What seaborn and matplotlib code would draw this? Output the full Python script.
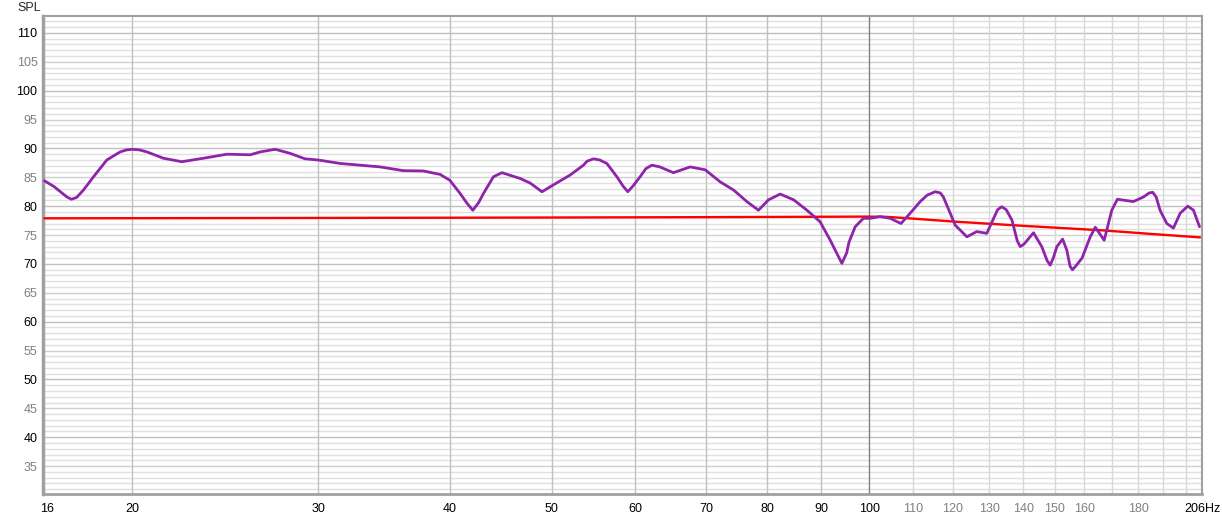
#Imports and config
import pandas as pd
import matplotlib
matplotlib.use("Agg")
import matplotlib.pyplot as plt
import seaborn as sns

#==========================================================================
#data (Hz, dB SPL)
#==========================================================================
freq_meas = [16.5, 16.85, 17.33, 17.5, 17.7, 17.97, 18.37, 18.91, 19.47, 19.75,
             20.0, 20.3, 20.64, 21.4, 22.28, 23.35, 24.58, 25.87, 26.44, 27.32,
             28.22, 29.16, 30.0, 31.48, 32.89, 34.36, 36.15, 37.76, 39.17, 40.0,
             40.92, 41.5, 42.07, 42.6, 43.06, 44.01, 44.83, 46.65, 47.69, 48.93,
             50.18, 52.04, 53.57, 54.0, 54.76, 55.5, 56.38, 57.63, 58.4, 59.02,
             59.7, 60.63, 61.4, 62.2, 63.3, 65.2, 67.63, 69.89, 72.24, 74.36,
             76.55, 78.52, 80.26, 82.34, 84.8, 87.29, 89.84, 91.85, 93.2, 94.21,
             95.2, 95.7, 97.0, 98.76, 100.2, 102.4, 104.7, 107.2, 109.4, 111.8,
             113.5, 115.5, 116.8, 117.6, 120.7, 123.8, 126.5, 129.3, 132.4, 133.6,
             134.9, 136.6, 138.2, 139.1, 140.2, 143.2, 145.8, 147.5, 148.5, 149.5,
             150.7, 152.6, 154.0, 155.1, 155.9, 157.0, 159.2, 162.1, 163.9, 167.1,
             169.9, 172.0, 178.1, 182.1, 184.4, 185.8, 187.2, 188.8, 191.6, 194.4,
             197.3, 200.6, 203.1, 205.8]
spl_meas = [84.4, 83.4, 81.6, 81.2, 81.5, 82.8, 85.1, 88.0, 89.4, 89.75,
            89.85, 89.75, 89.4, 88.3, 87.7, 88.3, 89.0, 88.9, 89.4, 89.85,
            89.15, 88.2, 88.0, 87.4, 87.1, 86.8, 86.15, 86.1, 85.5, 84.5,
            82.2, 80.6, 79.3, 80.6, 82.2, 85.1, 85.8, 84.8, 84.0, 82.5,
            83.7, 85.4, 87.1, 87.8, 88.2, 88.0, 87.4, 85.1, 83.5, 82.5,
            83.5, 85.1, 86.5, 87.1, 86.8, 85.8, 86.8, 86.3, 84.2, 82.8,
            80.8, 79.3, 81.1, 82.1, 81.1, 79.3, 77.3, 74.1, 71.8, 70.1,
            71.9, 73.8, 76.45, 77.9, 77.9, 78.2, 77.9, 77.0, 78.8, 80.8,
            81.9, 82.5, 82.3, 81.6, 76.7, 74.7, 75.6, 75.3, 79.4, 79.9,
            79.4, 77.6, 74.0, 73.0, 73.4, 75.4, 73.0, 70.6, 69.8, 71.0,
            73.0, 74.3, 72.4, 69.6, 69.0, 69.6, 71.0, 74.7, 76.35, 74.1,
            79.3, 81.2, 80.8, 81.6, 82.3, 82.4, 81.6, 79.3, 77.0, 76.2,
            78.8, 80.0, 79.3, 76.45]

freq_target = [16.5, 40, 70, 100, 104, 110, 120, 140, 167, 185, 206]
spl_target = [77.9, 78.0, 78.1, 78.2, 78.15, 77.85, 77.35, 76.6, 75.8, 75.2, 74.6]

x_ticks = [16.6, 20, 30, 40, 50, 60, 70, 80, 90, 100, 110, 120, 130, 140, 150, 160, 180, 206.9]
x_labels = ["16", "20", "30", "40", "50", "60", "70", "80", "90", "100",
            "110", "120", "130", "140", "150", "160", "180", "206Hz"]
y_ticks = list(range(35, 111, 5))

meas = pd.DataFrame({"freq": freq_meas, "spl": spl_meas})
target = pd.DataFrame({"freq": freq_target, "spl": spl_target})

#==========================================================================
#figure
#==========================================================================
sns.set_style("white")
plt.rcParams['font.family'] = ['Liberation Sans', 'DejaVu Sans']

fig = plt.figure(figsize=(12.22, 5.18), dpi=100)
ax = fig.add_axes([0.0352, 0.0454, 0.9484, 0.9228])
ax.set_xscale("log")
ax.set_xlim(16.45, 206.9)
ax.set_ylim(30.08, 112.85)

# grid: 1 dB minor, 5/10 dB major, log verticals
for v in range(31, 113):
    if v % 10 == 0:
        c = "#c0c0c0"
    elif v % 5 == 0:
        c = "#d0d0d0"
    else:
        c = "#e0e0e0"
    ax.axhline(v, color=c, lw=1, zorder=0)
for f in [20, 30, 40, 50, 60, 70, 80, 90]:
    ax.axvline(f, color="#c0c0c0", lw=1, zorder=0)
ax.axvline(100, color="#808080", lw=1, zorder=0)
for f in [110, 120, 130, 140, 150, 160, 170, 180, 190, 200]:
    ax.axvline(f, color="#d8d8d8", lw=1, zorder=0)

sns.lineplot(data=target, x="freq", y="spl", color="#ff0000", linewidth=1.7,
             sort=False, estimator=None, ax=ax, zorder=3)
sns.lineplot(data=meas, x="freq", y="spl", color="#8e24aa", linewidth=2.0,
             sort=False, estimator=None, ax=ax, zorder=4)

ax.set_xlabel("")
ax.set_ylabel("")
ax.xaxis.set_major_locator(matplotlib.ticker.FixedLocator(x_ticks))
ax.xaxis.set_minor_locator(matplotlib.ticker.NullLocator())
ax.set_xticklabels(x_labels)
ax.set_yticks(y_ticks)
ax.set_yticklabels([str(v) for v in y_ticks])
ax.tick_params(axis="both", length=0, labelsize=9)
ax.tick_params(axis="x", pad=6)
ax.tick_params(axis="y", pad=4)

for lab, txt in zip(ax.get_xticklabels(), x_labels):
    n = int(txt.replace("Hz", ""))
    lab.set_color("#000000" if (n <= 100 or txt.endswith("Hz")) else "#808080")
for lab, v in zip(ax.get_yticklabels(), y_ticks):
    lab.set_color("#000000" if v % 10 == 0 else "#808080")

for s in ax.spines.values():
    s.set_color("#a0a0a0")
    s.set_linewidth(1.5)
ax.spines["left"].set_linewidth(2.5)
ax.spines["bottom"].set_linewidth(2.0)

fig.text(17 / 1222, 1 - 8 / 518, "SPL", fontsize=9, va="center", ha="left")

plt.savefig("out.png", dpi=100)
